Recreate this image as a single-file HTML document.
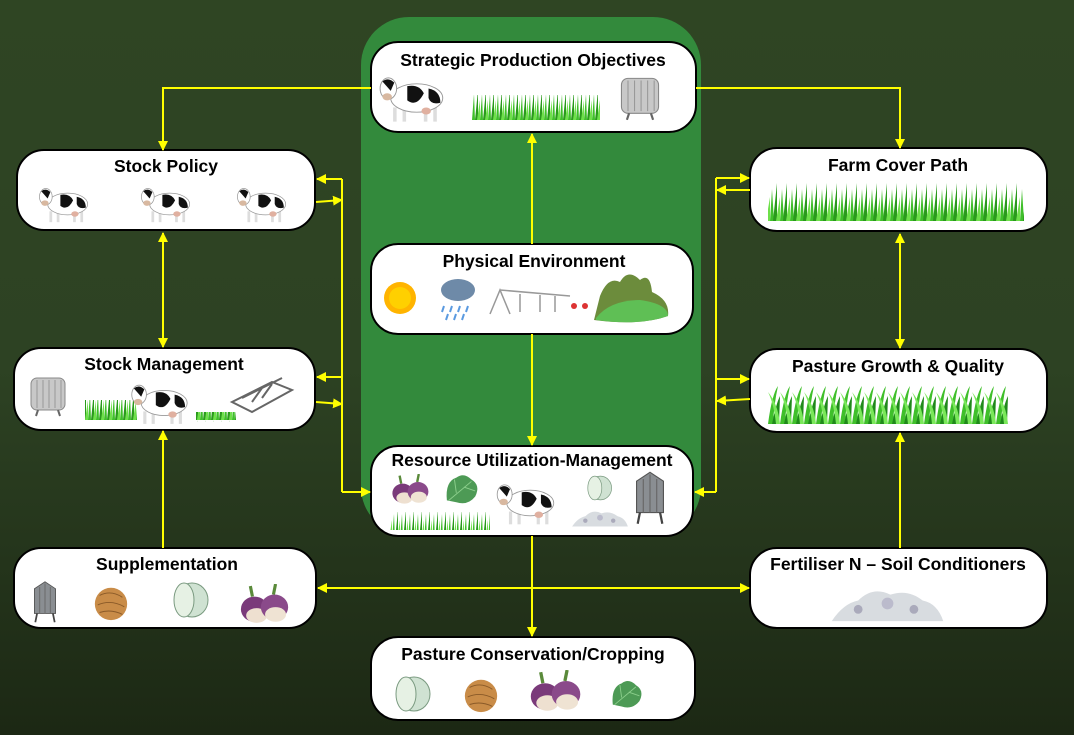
<!DOCTYPE html>
<html><head><meta charset="utf-8"><style>
html,body{margin:0;padding:0;width:1074px;height:735px;overflow:hidden;background:#263a1b}
svg{display:block}
text{font-family:"Liberation Sans",sans-serif;font-weight:bold;font-size:17.5px;fill:#000;text-anchor:middle}
</style></head><body>
<svg width="1074" height="735" viewBox="0 0 1074 735" xmlns="http://www.w3.org/2000/svg">
<defs>
<linearGradient id="bg" x1="0" y1="0" x2="0" y2="1">
<stop offset="0" stop-color="#2f4523"/><stop offset="0.5" stop-color="#2d4223"/><stop offset="1" stop-color="#1c2814"/>
</linearGradient>
<marker id="ah" viewBox="0 0 10 10" refX="9" refY="5" markerWidth="5" markerHeight="5" orient="auto-start-reverse">
<path d="M0,0 L10,5 L0,10 z" fill="#ffff00"/></marker>
<pattern id="grass" width="8" height="30" patternUnits="userSpaceOnUse">
<path d="M0,30 L2,4 L3,30 Z" fill="#3fbf2a"/><path d="M3,30 L6,0 L6,30 Z" fill="#2a9a1c"/><path d="M5,30 L8,10 L8,30 Z" fill="#6ee04a"/>
</pattern>
<pattern id="grass2" x="0" y="183" width="10" height="38" patternUnits="userSpaceOnUse">
<path d="M0,38 L2,6 L4,38 Z" fill="#3fbf2a"/><path d="M3,38 L7,0 L7,38 Z" fill="#2a9a1c"/><path d="M6,38 L10,14 L10,38 Z" fill="#6ee04a"/>
</pattern>
<pattern id="grass3" x="0" y="384" width="12" height="40" patternUnits="userSpaceOnUse">
<path d="M0,40 Q4,10 10,2 Q6,20 5,40 Z" fill="#3fbf2a"/><path d="M4,40 Q8,20 12,12 L11,40 Z" fill="#1f8a1a"/><path d="M8,40 Q6,20 0,8 Q10,20 12,40 Z" fill="#7ae85a"/>
</pattern>
<symbol id="cow" viewBox="0 0 60 44">
<rect x="14" y="30" width="3" height="12" fill="#ddd"/><rect x="22" y="30" width="3" height="12" fill="#ddd"/>
<rect x="40" y="30" width="3" height="12" fill="#ddd"/><rect x="48" y="30" width="3" height="12" fill="#ddd"/>
<ellipse cx="34" cy="22" rx="22" ry="12" fill="#fff" stroke="#999" stroke-width="0.8"/>
<path d="M26,12 Q36,10 40,18 Q34,30 26,24 Z" fill="#111"/><path d="M44,14 Q54,16 54,26 Q46,28 44,22 Z" fill="#111"/>
<ellipse cx="10" cy="14" rx="7" ry="9" fill="#fff" stroke="#999" stroke-width="0.8"/>
<path d="M5,8 Q10,4 15,9 L12,16 Z" fill="#111"/><ellipse cx="9" cy="21" rx="4" ry="3" fill="#d8b8a0"/>
<ellipse cx="42" cy="33" rx="4" ry="3" fill="#e0b0a0"/>
</symbol>
<symbol id="tank" viewBox="0 0 40 44">
<rect x="3" y="4" width="34" height="32" rx="6" fill="#c8c8c8" stroke="#888"/>
<path d="M9,6V34M15,6V34M21,6V34M27,6V34M33,6V34" stroke="#999"/>
<path d="M10,36 L8,42 M30,36 L32,42" stroke="#666" stroke-width="2"/>
</symbol>
<symbol id="silo" viewBox="0 0 30 50">
<path d="M3,10 L15,2 L27,10 V38 H3 Z" fill="#8a8e92" stroke="#555"/>
<path d="M9,8 V38 M15,4 V38 M21,8 V38" stroke="#666"/>
<path d="M6,38 L4,48 M24,38 L26,48" stroke="#444" stroke-width="2"/>
</symbol>
<symbol id="bale" viewBox="0 0 40 40">
<ellipse cx="22" cy="20" rx="16" ry="17" fill="#cfe2d2" stroke="#7a9a80"/>
<ellipse cx="14" cy="20" rx="10" ry="17" fill="#e6f1e4" stroke="#7a9a80"/>
</symbol>
<symbol id="hay" viewBox="0 0 40 40">
<ellipse cx="20" cy="21" rx="17" ry="17" fill="#c98c48"/>
<path d="M8,12 Q20,6 32,14 M6,22 Q20,16 34,24 M8,30 Q20,26 32,32" stroke="#8a5a28" fill="none"/>
</symbol>
<symbol id="turnip" viewBox="0 0 50 40">
<ellipse cx="16" cy="24" rx="13" ry="12" fill="#7a3a7a"/><ellipse cx="18" cy="30" rx="10" ry="7" fill="#eee0d0"/>
<ellipse cx="35" cy="22" rx="13" ry="12" fill="#8a4a8a"/><ellipse cx="36" cy="29" rx="10" ry="7" fill="#efe3d3"/>
<path d="M14,12 L12,2 M34,10 L36,0" stroke="#5a8a3a" stroke-width="3"/>
</symbol>
<symbol id="leaf" viewBox="0 0 40 36">
<path d="M4,30 Q2,10 14,6 Q22,0 30,8 Q40,14 34,26 Q26,36 14,32 Z" fill="#4d9a55"/>
<path d="M6,30 L30,10 M14,22 L12,8 M22,16 L34,20" stroke="#8ccf8c"/>
</symbol>
<symbol id="lime" viewBox="0 0 80 30">
<path d="M2,28 Q10,16 20,14 Q30,4 42,10 Q54,6 64,14 Q74,16 78,28 Z" fill="#d8dce0"/>
<circle cx="20" cy="20" r="3" fill="#aab"/><circle cx="40" cy="16" r="4" fill="#bbc"/><circle cx="58" cy="20" r="3" fill="#aab"/>
</symbol>
</defs>
<rect width="1074" height="735" fill="url(#bg)"/>
<rect x="361" y="17" width="340" height="518" rx="48" fill="#338a3c"/>

<g fill="#fff" stroke="#000" stroke-width="2">
<rect x="371" y="42" width="325" height="90" rx="27"/>
<rect x="17" y="150" width="298" height="80" rx="27"/>
<rect x="750" y="148" width="297" height="83" rx="27"/>
<rect x="371" y="244" width="322" height="90" rx="27"/>
<rect x="14" y="348" width="301" height="82" rx="27"/>
<rect x="750" y="349" width="297" height="83" rx="27"/>
<rect x="371" y="446" width="322" height="90" rx="27"/>
<rect x="14" y="548" width="302" height="80" rx="27"/>
<rect x="750" y="548" width="297" height="80" rx="27"/>
<rect x="371" y="637" width="324" height="83" rx="27"/>
</g>

<text x="533" y="66">Strategic Production Objectives</text>
<text x="166" y="172">Stock Policy</text>
<text x="898" y="171">Farm Cover Path</text>
<text x="534" y="267">Physical Environment</text>
<text x="164" y="370">Stock Management</text>
<text x="898" y="372">Pasture Growth &amp; Quality</text>
<text x="532" y="466">Resource Utilization-Management</text>
<text x="167" y="570">Supplementation</text>
<text x="898" y="570">Fertiliser N  – Soil Conditioners</text>
<text x="533" y="660">Pasture Conservation/Cropping</text>

<!-- icons -->
<use href="#cow" x="374" y="72" width="76" height="52"/>
<rect x="472" y="95" width="128" height="25" fill="url(#grass)"/>
<use href="#tank" x="618" y="74" width="44" height="48"/>

<use href="#cow" x="36" y="184" width="56" height="40"/>
<use href="#cow" x="138" y="184" width="56" height="40"/>
<use href="#cow" x="234" y="184" width="56" height="40"/>

<rect x="768" y="183" width="256" height="38" fill="url(#grass2)"/>

<circle cx="400" cy="298" r="16" fill="#ffb400"/><circle cx="400" cy="298" r="11" fill="#ffd000"/>
<ellipse cx="458" cy="290" rx="17" ry="11" fill="#6e8aa8"/>
<path d="M444,306 l-2,6 M452,306 l-2,6 M460,306 l-2,6 M468,306 l-2,6 M448,314 l-2,6 M456,314 l-2,6 M464,314 l-2,6" stroke="#5a9ae0" stroke-width="2"/>
<path d="M490,314 L500,290 L510,314 M500,290 L570,296 M520,294 V312 M540,295 V312 M555,296 V312" stroke="#999" fill="none" stroke-width="1.5"/>
<circle cx="574" cy="306" r="3" fill="#d33"/><circle cx="585" cy="306" r="3" fill="#d33"/>
<path d="M600,296 Q608,276 620,282 Q628,268 640,280 Q650,272 652,292 Q670,300 668,316 Q640,326 594,320 Z" fill="#6c8c3c"/>
<path d="M596,318 Q610,300 640,300 Q668,304 668,316 Q640,326 596,320 Z" fill="#5fbf55"/>

<use href="#tank" x="28" y="370" width="40" height="52"/>
<rect x="85" y="400" width="52" height="20" fill="url(#grass)"/>
<use href="#cow" x="128" y="380" width="64" height="46"/>
<rect x="196" y="412" width="40" height="10" fill="url(#grass)"/>
<path d="M232,402 L272,382 L292,390 L252,412 Z" fill="none" stroke="#666" stroke-width="2"/>
<path d="M242,398 L282,378 M252,402 L262,388 M262,398 L272,384" stroke="#666" stroke-width="2"/>

<rect x="768" y="384" width="240" height="40" fill="url(#grass3)"/>

<use href="#turnip" x="388" y="474" width="44" height="32"/>
<use href="#leaf" x="440" y="472" width="44" height="34"/>
<rect x="390" y="512" width="100" height="18" fill="url(#grass)"/>
<use href="#cow" x="494" y="478" width="64" height="50"/>
<use href="#bale" x="584" y="474" width="30" height="28"/>
<use href="#lime" x="568" y="506" width="64" height="22"/>
<use href="#silo" x="630" y="470" width="40" height="56"/>

<use href="#silo" x="28" y="580" width="34" height="44"/>
<use href="#hay" x="92" y="584" width="38" height="38"/>
<use href="#bale" x="168" y="580" width="44" height="40"/>
<use href="#turnip" x="236" y="584" width="56" height="42"/>

<use href="#lime" x="775" y="580" width="225" height="44"/>

<use href="#bale" x="388" y="674" width="48" height="40"/>
<use href="#hay" x="462" y="676" width="38" height="38"/>
<use href="#turnip" x="526" y="670" width="58" height="44"/>
<use href="#leaf" x="608" y="678" width="38" height="32"/>

<!-- connectors -->
<g stroke="#ffff00" stroke-width="2" fill="none">
<path d="M371,88 H163 V150" marker-end="url(#ah)"/>
<path d="M696,88 H900 V148" marker-end="url(#ah)"/>
<path d="M163,233 V347" marker-start="url(#ah)" marker-end="url(#ah)"/>
<path d="M900,234 V348" marker-start="url(#ah)" marker-end="url(#ah)"/>
<path d="M342,179 V492"/>
<path d="M342,179 H317" marker-end="url(#ah)"/>
<path d="M316,202 L342,200" marker-end="url(#ah)"/>
<path d="M342,377 H317" marker-end="url(#ah)"/>
<path d="M316,402 L342,404" marker-end="url(#ah)"/>
<path d="M342,492 H370" marker-end="url(#ah)"/>
<path d="M716,178 V492"/>
<path d="M716,178 H749" marker-end="url(#ah)"/>
<path d="M750,190 H717" marker-end="url(#ah)"/>
<path d="M716,379 H749" marker-end="url(#ah)"/>
<path d="M750,399 L717,401" marker-end="url(#ah)"/>
<path d="M716,492 H695" marker-end="url(#ah)"/>
<path d="M532,244 V134" marker-end="url(#ah)"/>
<path d="M532,334 V445" marker-end="url(#ah)"/>
<path d="M532,536 V636" marker-end="url(#ah)"/>
<path d="M318,588 H749" marker-start="url(#ah)" marker-end="url(#ah)"/>
<path d="M163,548 V431" marker-end="url(#ah)"/>
<path d="M900,548 V433" marker-end="url(#ah)"/>
</g>
</svg>
</body></html>
